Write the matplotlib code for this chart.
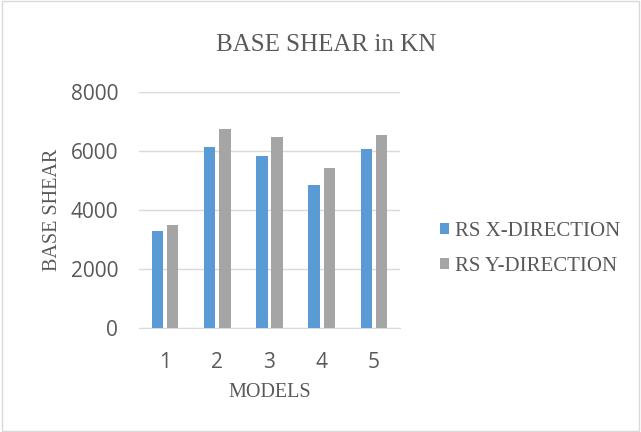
import numpy as np
import matplotlib.pyplot as plt
from matplotlib.patches import Rectangle

models = ['1', '2', '3', '4', '5']
rs_x = [3270, 6120, 5810, 4830, 6070]
rs_y = [3480, 6750, 6460, 5430, 6550]

fig = plt.figure(figsize=(6.41, 4.32), dpi=100)
ax = fig.add_axes([139/641, 1 - 328/432, (400-139)/641, (328-91.7)/432])

x = np.arange(len(models))
w = 0.22
ax.bar(x - 0.145, rs_x, w, color='#5b9bd5', label='RS X-DIRECTION', zorder=3)
ax.bar(x + 0.145, rs_y, w, color='#a5a5a5', label='RS Y-DIRECTION', zorder=3)

ax.set_xlim(-0.5, 4.5)
ax.set_ylim(0, 8000)
ax.set_yticks([0, 2000, 4000, 6000, 8000])
ax.set_xticks(x)
ax.set_xticklabels(models)
ax.grid(axis='y', color='#d9d9d9', lw=1, zorder=0)
for s in ['top', 'right', 'left']:
    ax.spines[s].set_visible(False)
ax.spines['bottom'].set_color('#d9d9d9')
ax.tick_params(length=0, labelsize=15, labelcolor='#595959')
ax.tick_params(axis='y', pad=15)
ax.tick_params(axis='x', pad=17)
for lab in ax.get_xticklabels() + ax.get_yticklabels():
    lab.set_family('Open Sans')

ax.set_xlabel('MODELS', family='Liberation Serif', fontsize=14.5, color='#595959', va='center')
ax.xaxis.set_label_coords(0.5, -0.275)
ax.set_ylabel('BASE SHEAR', family='Liberation Serif', fontsize=14.5, color='#595959', va='center')
ax.yaxis.set_label_coords(-0.333, 0.5)
fig.text(326/641, 1 - 45/432, 'BASE SHEAR in KN', ha='center', va='center',
         family='Liberation Serif', fontsize=18, color='#595959')

leg = fig.legend(loc='center left', bbox_to_anchor=(421/641, 1 - 249/432), frameon=False,
                 prop={'family': 'Liberation Serif', 'size': 15}, handlelength=0.45,
                 handleheight=0.45, handletextpad=0.3, labelspacing=0.75)
for t in leg.get_texts():
    t.set_color('#595959')

fig.patches.append(Rectangle((0.003, 0.003), 0.994, 0.994, transform=fig.transFigure,
                             fill=False, edgecolor='#d9d9d9', lw=1))

fig.savefig('out.png', dpi=100)
